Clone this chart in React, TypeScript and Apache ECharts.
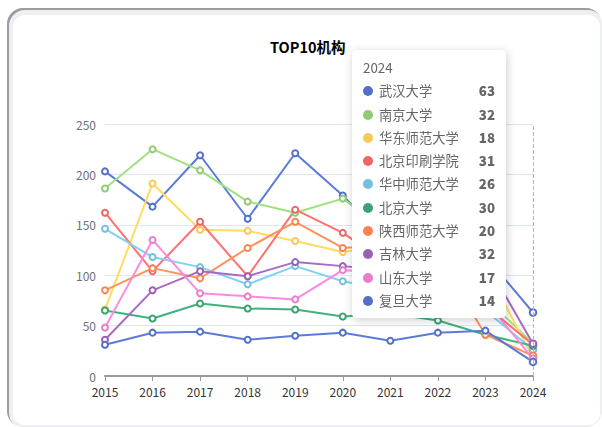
import React, { useEffect, useRef } from "react";
import * as echarts from "echarts";

const years = ["2015", "2016", "2017", "2018", "2019", "2020", "2021", "2022", "2023", "2024"];
const seriesNames = [
  "武汉大学",
  "南京大学",
  "华东师范大学",
  "北京印刷学院",
  "华中师范大学",
  "北京大学",
  "陕西师范大学",
  "吉林大学",
  "山东大学",
  "复旦大学",
];
const whu = [203, 168, 219, 156, 221, 179, 130, 145, 119, 63];
const nju = [186, 225, 204, 173, 162, 176, 142, 120, 78, 32];
const ecnu = [66, 191, 145, 144, 134, 123, 130, 120, 108, 18];
const bigc = [162, 104, 153, 99, 165, 142, 110, 100, 70, 31];
const ccnu = [146, 118, 108, 91, 109, 94, 85, 75, 65, 26];
const pku = [65, 57, 72, 67, 66, 59, 62, 55, 41, 30];
const snnu = [85, 107, 97, 127, 153, 127, 130, 119, 41, 20];
const jlu = [36, 85, 104, 99, 113, 109, 105, 110, 114, 32];
const sdu = [48, 135, 82, 79, 76, 105, 103, 90, 75, 17];
const fdu = [31, 43, 44, 36, 40, 43, 35, 43, 45, 14];
const seriesValues = [whu, nju, ecnu, bigc, ccnu, pku, snnu, jlu, sdu, fdu];
const palette = ["#5470c6", "#91cc75", "#fac858", "#ee6666", "#73c0de", "#3ba272", "#fc8452", "#9a60b4", "#ea7ccc"];
const yTicks = { min: 0, max: 250, interval: 50 };

const FONT = "'Noto Sans CJK SC', 'Noto Sans', sans-serif";

export default function App() {
  const ref = useRef<HTMLDivElement>(null);
  useEffect(() => {
    if (!ref.current) return;
    const chart = echarts.init(ref.current, undefined, { renderer: "svg" });
    chart.setOption({
      animation: false,
      color: palette,
      textStyle: { fontFamily: FONT },
      title: {
        text: "TOP10机构",
        left: 265,
        top: 34,
        textStyle: { fontSize: 14.5, fontWeight: "bold", color: "#000", fontFamily: FONT },
      },
      grid: { left: 105, right: 69, top: 124, bottom: 51, containLabel: false },
      tooltip: {
        trigger: "axis",
        alwaysShowContent: true,
        transitionDuration: 0,
        borderColor: "#fff",
        position: () => [352, 50],
        textStyle: { fontFamily: FONT, fontSize: 13.3, color: "#666" },
      },
      xAxis: {
        type: "category",
        boundaryGap: false,
        data: years,
        axisLine: { lineStyle: { color: "#999", width: 2 } },
        axisTick: { lineStyle: { color: "#999" } },
        axisLabel: { color: "#333", fontSize: 12, margin: 9, lineHeight: 12 },
      },
      yAxis: {
        type: "value",
        min: yTicks.min,
        max: yTicks.max,
        interval: yTicks.interval,
        axisLabel: { color: "#6E7079", fontSize: 12, lineHeight: 12, margin: 9 },
        splitLine: { lineStyle: { color: "#E0E6F1" } },
      },
      series: seriesNames.map((name, i) => ({
        name,
        type: "line",
        data: seriesValues[i],
        symbol: "emptyCircle",
        symbolSize: 6,
        lineStyle: { width: 2 },
      })),
    });
    chart.dispatchAction({ type: "showTip", seriesIndex: 0, dataIndex: 9 });
    return () => chart.dispose();
  }, []);

  return (
    <div style={{ position: "fixed", left: 0, top: 0, width: 602, height: 427, background: "#fff", overflow: "hidden" }}>
      <div
        style={{
          position: "absolute",
          left: 7,
          top: 8,
          width: 595,
          height: 419,
          borderRadius: 16,
          background: "#eeeff2",
          boxShadow: "inset 2px 2px 0 #9c9c9c",
        }}
      >
        <div
          style={{
            position: "absolute",
            left: 6,
            top: 7,
            right: 2,
            bottom: 2,
            borderRadius: 12,
            background: "#fff",
          }}
        />
      </div>
      <div ref={ref} style={{ position: "absolute", left: 0, top: 0, width: 602, height: 427 }} />
    </div>
  );
}
